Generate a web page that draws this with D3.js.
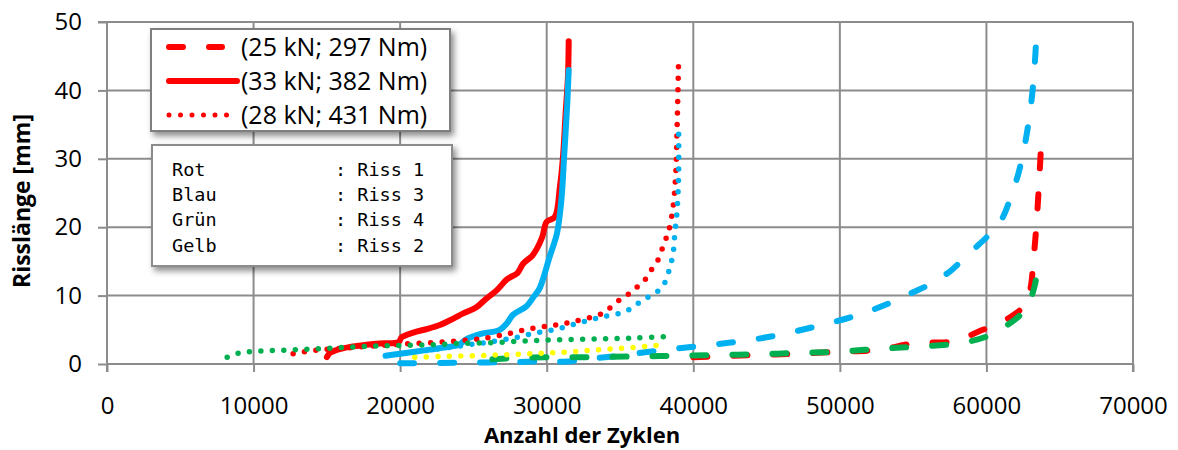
<!DOCTYPE html>
<html>
<head>
<meta charset="utf-8">
<script src="https://cdn.jsdelivr.net/npm/d3@7"></script>
<style>
  body { margin: 0; background: #fff; }
  svg { display: block; }
</style>
</head>
<body>
<svg width="1178" height="450"></svg>
<script>
// axis ticks
var xTicks = [0, 10000, 20000, 30000, 40000, 50000, 60000, 70000];
var yTicks = [0, 10, 20, 30, 40, 50];

// legend texts
var loadLabels = ["(25 kN; 297 Nm)", "(33 kN; 382 Nm)", "(28 kN; 431 Nm)"];
var colorNames = ["Rot", "Blau", "Grün", "Gelb"];
var crackNames = [": Riss 1", ": Riss 3", ": Riss 4", ": Riss 2"];

// 33 kN; 382 Nm  (solid)
var rot33 = [[15000,1.0],[15200,1.6],[15600,2.0],[16600,2.5],[17700,2.8],[18600,3.0],[19900,3.2],[20100,3.9],
  [20900,4.6],[21800,5.1],[22700,5.7],[23600,6.6],[24300,7.4],[25200,8.3],[25900,9.6],[26600,10.8],[27300,12.4],
  [28000,13.3],[28400,14.7],[29000,15.8],[29340,16.9],[29700,18.6],[30000,20.8],[30550,21.5],[30900,25.9],
  [31100,30],[31300,37],[31450,42],[31500,47.2]];
var blau33 = [[19000,1.2],[20000,1.5],[21000,1.8],[22000,2.1],[23000,2.4],[24000,2.8],[24500,3.6],[25500,4.4],
  [26800,5.0],[27300,6.0],[27700,7.2],[28600,8.4],[29100,9.8],[29500,11],[29800,12.8],[30200,15.7],[30700,19.1],
  [31000,24],[31200,30.8],[31400,38],[31500,43]];

// 28 kN; 431 Nm  (dotted)
var rot28 = [[12700,1.5],[14200,2.0],[16000,2.3],[18000,2.6],[20000,2.9],[22000,3.1],[24000,3.4],[25900,3.8],
  [27500,4.5],[29000,5.2],[30600,5.7],[32000,6.3],[33600,7.2],[34200,8.0],[34800,9.1],[35400,9.9],[36000,11],
  [36600,12],[37000,13.4],[37500,14.8],[38000,17.6],[38300,19.3],[38600,22.6],[38800,27.6],[38900,35],[39000,44.6]];
var blau28 = [[21000,1.8],[23000,2.3],[25000,2.9],[26100,3.2],[27700,3.8],[29200,4.5],[30700,5.1],[32200,6.0],
  [33800,6.9],[35300,7.6],[36000,8.5],[36600,9.4],[37300,10.2],[37900,11.3],[38200,12.7],[38600,15.9],[38750,19.3],
  [38900,22.6],[39000,28],[39000,34.5]];
var gruen28 = [[8200,1.0],[9000,1.6],[10500,1.9],[12000,2.0],[14000,2.2],[16000,2.4],[18000,2.6],[20000,2.7],
  [22000,2.8],[24000,3.0],[26000,3.1],[28000,3.3],[30000,3.5],[32000,3.6],[34000,3.7],[36000,3.8],[38100,4.0]];
var gelb28 = [[21000,1.0],[23000,1.1],[25000,1.2],[27000,1.35],[29000,1.5],[31000,1.7],[33000,2.0],[35000,2.3],
  [37000,2.6],[38000,2.8]];

// 25 kN; 297 Nm  (dashed)
var rot25 = [[40000,1.0],[44000,1.3],[47000,1.5],[50000,1.8],[52700,2.1],[55000,3.0],[58000,3.4],[59500,4.8],
  [60500,5.6],[61800,7.1],[62600,8.6],[63000,11],[63200,15],[63400,20],[63550,25],[63700,30.8]];
var blau25 = [[20000,0.1],[22000,0.15],[25000,0.2],[28000,0.3],[30000,0.4],[31500,0.35],[33000,0.8],[35000,1.2],
  [37000,1.8],[39000,2.3],[42000,3.0],[45000,3.9],[48000,5.3],[51000,7.0],[53500,9.0],[55000,10.5],[56000,11.5],
  [56500,12.2],[57500,13.5],[58500,15.5],[59500,17.5],[60000,18.5],[61000,21],[61600,24],[62200,28],[62700,33],
  [63100,39],[63300,44],[63400,47.5]];
var gruen25 = [[26300,0.7],[28000,0.9],[30000,1.0],[33000,1.0],[36000,1.1],[38500,1.2],[41000,1.3],[44000,1.4],
  [47000,1.6],[50000,1.8],[52500,2.2],[55000,2.5],[58000,3.0],[60000,4.0],[61500,5.8],[62500,7.6],[63000,9.5],
  [63300,11.5],[63450,13.4]];

var RED = "#ff0000", BLUE = "#00b0f0", GREEN = "#00b050", YELLOW = "#ffff00";
var DASH = "14,26", DOT = "0,11.5";

var series = [
  {data: rot25, color: RED, dash: DASH, w: 6},
  {data: blau25, color: BLUE, dash: DASH, w: 6},
  {data: gruen25, color: GREEN, dash: DASH, w: 6},
  {data: rot33, color: RED, dash: null, w: 6},
  {data: blau33, color: BLUE, dash: null, w: 6},
  {data: gelb28, color: YELLOW, dash: DOT, w: 5.5},
  {data: rot28, color: RED, dash: DOT, w: 5.5},
  {data: blau28, color: BLUE, dash: DOT, w: 5.5},
  {data: gruen28, color: GREEN, dash: DOT, w: 5.5}
];

var svg = d3.select("svg");
var x = d3.scaleLinear().domain([0, 70000]).range([107, 1133]);
var y = d3.scaleLinear().domain([0, 50]).range([364, 22]);
var GRID = "#8c8c8c";
var FONT = "'Open Sans', sans-serif";

var defs = svg.append("defs");
var f = defs.append("filter").attr("id", "shadow")
  .attr("x", "-10%").attr("y", "-10%").attr("width", "130%").attr("height", "140%");
f.append("feDropShadow").attr("dx", 3).attr("dy", 4).attr("stdDeviation", 3)
  .attr("flood-color", "#000").attr("flood-opacity", 0.45);

// grid
svg.append("g").selectAll("line").data(xTicks.slice(1)).join("line")
  .attr("x1", d => x(d)).attr("x2", d => x(d)).attr("y1", y(0)).attr("y2", y(50))
  .attr("stroke", GRID).attr("stroke-width", 2);
svg.append("g").selectAll("line").data(yTicks.slice(1)).join("line")
  .attr("x1", x(0)).attr("x2", x(70000)).attr("y1", d => y(d)).attr("y2", d => y(d))
  .attr("stroke", GRID).attr("stroke-width", 2);

// axes
var xAxis = svg.append("g").attr("transform", "translate(0," + y(0) + ")")
  .call(d3.axisBottom(x).tickValues(xTicks).tickFormat(d3.format("d")).tickSize(8).tickPadding(25));
var yAxis = svg.append("g").attr("transform", "translate(" + x(0) + ",0)")
  .call(d3.axisLeft(y).tickValues(yTicks).tickSize(9).tickPadding(16));
[xAxis, yAxis].forEach(function(a){
  a.select(".domain").attr("stroke", GRID).attr("stroke-width", 2);
  a.selectAll(".tick line").attr("stroke", GRID).attr("stroke-width", 2);
  a.selectAll(".tick text").attr("fill", "#000").style("font-family", FONT).style("font-size", "24px");
});
xAxis.select(".domain").attr("d", "M" + x(0) + ",8V0H" + x(70000) + "V8");
yAxis.select(".domain").attr("d", "M-9," + y(50) + "H0V" + (y(0) + 8));

// axis titles
svg.append("text").attr("x", 582).attr("y", 443).attr("text-anchor", "middle")
  .style("font-family", FONT).style("font-weight", "bold").style("font-size", "22px")
  .text("Anzahl der Zyklen");
svg.append("text").attr("transform", "translate(30,201) rotate(-90)").attr("text-anchor", "middle")
  .style("font-family", FONT).style("font-weight", "bold").style("font-size", "23px")
  .text("Risslänge [mm]");

// curves
var line = d3.line().x(d => x(d[0])).y(d => y(d[1])).curve(d3.curveCatmullRom.alpha(0.5));
svg.append("g").selectAll("path").data(series).join("path")
  .attr("d", d => line(d.data))
  .attr("fill", "none")
  .attr("stroke", d => d.color)
  .attr("stroke-width", d => d.w)
  .attr("stroke-linecap", "round")
  .attr("stroke-linejoin", "round")
  .attr("stroke-dasharray", d => d.dash);

// legend 1
var lg = svg.append("g");
lg.append("rect").attr("x", 151).attr("y", 29).attr("width", 299).attr("height", 102)
  .attr("fill", "#fff").attr("stroke", "#7f7f7f").attr("stroke-width", 2).attr("filter", "url(#shadow)");
var legStyles = [
  {dash: "14,26", len: 55, w: 6},
  {dash: null, len: 70, w: 6},
  {dash: "0,11.5", len: 65, w: 5}
];
lg.selectAll("line").data(legStyles).join("line")
  .attr("x1", 169).attr("x2", d => 167 + d.len)
  .attr("y1", (d, i) => 47 + i * 34).attr("y2", (d, i) => 47 + i * 34)
  .attr("stroke", RED).attr("stroke-width", d => d.w).attr("stroke-linecap", "round")
  .attr("stroke-dasharray", d => d.dash);
lg.selectAll("text").data(loadLabels).join("text")
  .attr("x", 241).attr("y", (d, i) => 47 + i * 34).attr("dy", "0.36em")
  .style("font-family", FONT).style("font-size", "25px").text(d => d);

// legend 2
var lg2 = svg.append("g");
lg2.append("rect").attr("x", 152).attr("y", 145).attr("width", 300).attr("height", 121)
  .attr("fill", "#fff").attr("stroke", "#8c8c8c").attr("stroke-width", 2).attr("filter", "url(#shadow)");
var MONO = "'DejaVu Sans Mono', monospace";
lg2.selectAll("text.c").data(colorNames).join("text").attr("class", "c")
  .attr("x", 172).attr("y", (d, i) => 169 + i * 25.3).attr("dy", "0.36em")
  .style("font-family", MONO).style("font-size", "18.5px").text(d => d);
lg2.selectAll("text.r").data(crackNames).join("text").attr("class", "r")
  .attr("x", 335).attr("y", (d, i) => 169 + i * 25.3).attr("dy", "0.36em")
  .style("font-family", MONO).style("font-size", "18.5px").text(d => d);
</script>
</body>
</html>
